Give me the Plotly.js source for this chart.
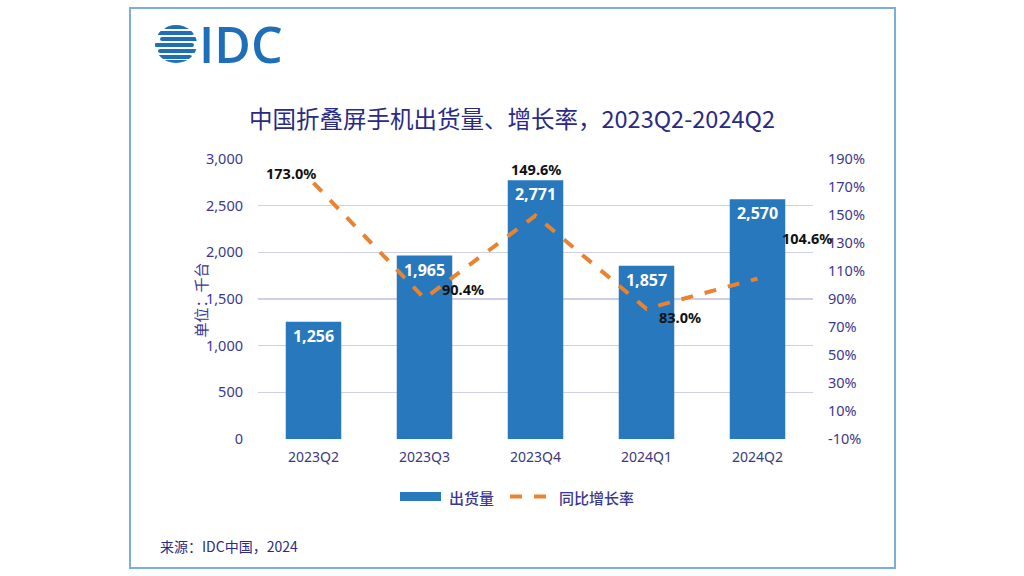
<!DOCTYPE html>
<html>
<head>
<meta charset="utf-8">
<script src="https://cdn.plot.ly/plotly-3.0.1.min.js"></script>
<style>html,body{margin:0;padding:0;background:#fff;}#chart{width:1024px;height:576px;}</style>
</head>
<body>
<div id="chart"></div>
<script>
const categories = ["2023Q2", "2023Q3", "2023Q4", "2024Q1", "2024Q2"];
const shipments = [1256, 1965, 2771, 1857, 2570];
const growthRate = [173.0, 90.4, 149.6, 83.0, 104.6];
const rightTicks = [-10, 10, 30, 50, 70, 90, 110, 130, 150, 170, 190];
const rateLabelShift = [[-23, 10], [38, 9], [0, 47], [33, -8], [49, 41]];
const legendNames = ["出货量", "同比增长率"];

const FONT = '"Noto Sans", "Noto Sans CJK SC", sans-serif';
const CJK = '"Noto Sans CJK SC", "Noto Sans", sans-serif';
const TXT = '#3b3890';
const BAR = '#2878BD';
const LINE = '#E9832F';

const barTrace = {
  type: 'bar', name: legendNames[0], x: categories, y: shipments,
  marker: {color: BAR},
  text: shipments.map(v => v.toLocaleString('en-US')),
  textposition: 'inside', insidetextanchor: 'end',
  textfont: {color: '#ffffff', size: 16, family: FONT, weight: 700},
  hoverinfo: 'skip', showlegend: false
};
const lineTrace = {
  type: 'scatter', mode: 'lines', name: legendNames[1], x: categories, y: growthRate,
  yaxis: 'y2', line: {color: LINE, width: 4, dash: 'dash'},
  hoverinfo: 'skip', showlegend: false
};

// helpers: pixel -> paper for decorations
const L = 258, R = 813, T = 159, B = 439;
const px = x => (x - L) / (R - L);
const py = y => (B - y) / (B - T);

const annotations = growthRate.map((v, i) => ({
  x: categories[i], y: v, xref: 'x', yref: 'y2',
  text: v.toFixed(1) + '%', showarrow: false,
  xshift: rateLabelShift[i][0], yshift: rateLabelShift[i][1],
  font: {family: FONT, size: 14.5, color: '#111111', weight: 700}
}));
annotations.push({
  xref: 'paper', yref: 'paper', x: px(187), y: py(300), text: '单位：千台',
  textangle: -90, showarrow: false, font: {family: CJK, size: 15, color: TXT}
});
annotations.push({
  xref: 'paper', yref: 'paper', x: px(158), y: py(546), xanchor: 'left', yanchor: 'middle',
  text: '来源：IDC中国，2024', showarrow: false, font: {family: CJK, size: 14, color: '#2e2a80'}
});
annotations.push({
  xref: 'paper', yref: 'paper', x: px(197), y: py(44), xanchor: 'left', yanchor: 'middle',
  text: 'IDC', showarrow: false, font: {family: '"Open Sans", sans-serif', size: 50, color: '#1F6FB8', weight: 600}
});
// legend texts
annotations.push({
  xref: 'paper', yref: 'paper', x: px(447), y: py(497), xanchor: 'left', yanchor: 'middle',
  text: legendNames[0], showarrow: false, font: {family: CJK, size: 15, color: TXT, weight: 500}
});
annotations.push({
  xref: 'paper', yref: 'paper', x: px(557), y: py(497), xanchor: 'left', yanchor: 'middle',
  text: legendNames[1], showarrow: false, font: {family: CJK, size: 15, color: TXT, weight: 500}
});

const globeSvg = '<svg xmlns="http://www.w3.org/2000/svg" width="44" height="40" viewBox="0 0 44 40">' +
  '<defs><clipPath id="c"><ellipse cx="22" cy="20" rx="21" ry="19"/></clipPath></defs>' +
  '<g clip-path="url(#c)" fill="#1F6FB8">' +
  '<rect x="10" y="1" width="26" height="4" rx="2"/>' +
  '<rect x="2" y="7" width="38" height="4" rx="2"/>' +
  '<rect x="6" y="13" width="40" height="4" rx="2"/>' +
  '<rect x="0" y="19" width="40" height="4" rx="2"/>' +
  '<rect x="4" y="25" width="42" height="4" rx="2"/>' +
  '<rect x="0" y="31" width="38" height="4" rx="2"/>' +
  '<rect x="10" y="36" width="26" height="4" rx="2"/>' +
  '</g></svg>';

const layout = {
  width: 1024, height: 576,
  margin: {l: L, r: 1024 - R, t: T, b: 576 - B, autoexpand: false},
  paper_bgcolor: '#ffffff', plot_bgcolor: '#ffffff',
  font: {family: FONT, color: TXT},
  title: {
    text: '中国折叠屏手机出货量、增长率，2023Q2-2024Q2',
    font: {family: CJK, size: 23.5, color: '#2b2a85'},
    x: 0.5, xanchor: 'center', y: 1 - 120 / 576, yanchor: 'middle'
  },
  bargap: 0.5,
  showlegend: false,
  xaxis: {
    type: 'category', range: [-0.5, categories.length - 0.5], autorange: false,
    domain: [0, 1], automargin: false, showgrid: false, zeroline: false, showline: false,
    tickfont: {family: FONT, size: 14, color: '#3a3a7a'}, ticks: '', ticklabelstandoff: 8
  },
  yaxis: {
    range: [0, 3000], autorange: false, dtick: 500, tickformat: ',d', showgrid: true, automargin: false,
    gridcolor: '#cfcfe8', gridwidth: 1.5, zeroline: false, showline: false, ticks: '',
    tickfont: {family: FONT, size: 14.5, color: TXT}, ticklabelstandoff: 14
  },
  yaxis2: {
    overlaying: 'y', side: 'right', range: [-10, 190], autorange: false, automargin: false,
    tickmode: 'array', tickvals: rightTicks, ticktext: rightTicks.map(v => v + '%'),
    showgrid: false, zeroline: false, showline: false, ticks: '',
    tickfont: {family: FONT, size: 14.5, color: TXT}, ticklabelstandoff: 14
  },
  annotations: annotations,
  shapes: [
    {type: 'rect', xref: 'paper', yref: 'paper', x0: px(130), x1: px(895), y0: py(568), y1: py(8),
     line: {color: '#7AB0D8', width: 2}, fillcolor: 'rgba(0,0,0,0)'},
    {type: 'rect', xref: 'paper', yref: 'paper', x0: px(400), x1: px(441), y0: py(501), y1: py(492),
     line: {width: 0}, fillcolor: BAR},
    {type: 'line', xref: 'paper', yref: 'paper', x0: px(510), x1: px(551), y0: py(496.5), y1: py(496.5),
     line: {color: LINE, width: 4, dash: 'dash'}}
  ],
  images: [{
    source: 'data:image/svg+xml;charset=utf-8,' + encodeURIComponent(globeSvg),
    xref: 'paper', yref: 'paper', x: px(154), y: py(24), sizex: 44 / (R - L), sizey: 40 / (B - T),
    xanchor: 'left', yanchor: 'top', sizing: 'stretch', layer: 'above'
  }]
};

Plotly.newPlot('chart', [barTrace, lineTrace], layout, {displayModeBar: false, staticPlot: true});
</script>
</body>
</html>
